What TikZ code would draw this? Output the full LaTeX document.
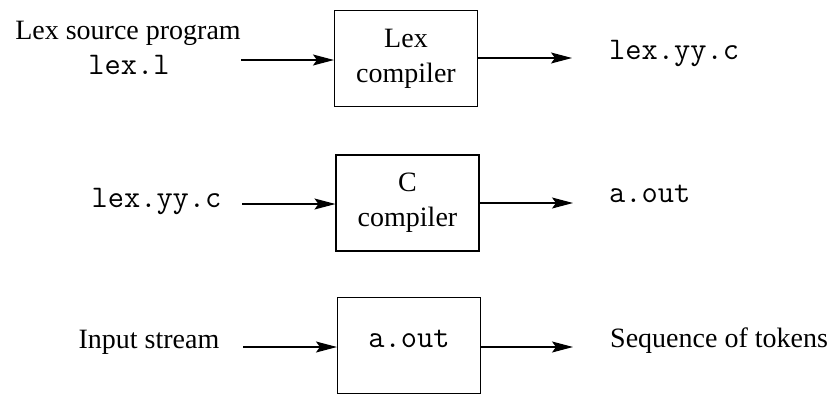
\documentclass[tikz,border=0pt]{standalone}
\usepackage{fontspec}
\setmainfont{Liberation Serif}
\usetikzlibrary{arrows.meta}
\newcommand\codetxt[1]{{\ttfamily\fontsize{31.5}{35}\selectfont #1}}
\begin{document}
\begin{tikzpicture}[x=1pt,y=-1pt,
  every node/.style={font=\fontsize{28}{35}\selectfont, inner sep=0pt},
  box/.style={draw, line width=1.1pt, minimum width=143pt, minimum height=96pt, align=center},
  conn/.style={line width=1.1pt, -{Stealth[length=21pt,width=11pt,inset=4pt]}},
  lbl/.style={anchor=base},
  outlbl/.style={anchor=base west}]
\useasboundingbox (0,0) rectangle (832,394);
% row 1
\node[lbl] (src) at (128,39) {Lex source program};
\node[lbl] (srcf) at (129,74) {\codetxt{lex.l}};
\node[box] (b1) at (406,58.5) {Lex\\compiler};
\node[outlbl] (out1) at (609,59) {\codetxt{lex.yy.c}};
\coordinate (i1) at (241,60);
\coordinate (o1) at (572,58);
\draw[conn] (i1) -- (b1.west |- i1);
\draw[conn] (b1.east |- o1) -- (o1);
% row 2
\node[lbl] (in2) at (156.5,207) {\codetxt{lex.yy.c}};
\node[box] (b2) at (407.5,203) {C\\compiler};
\node[outlbl] (out2) at (609,202) {\codetxt{a.out}};
\coordinate (i2) at (242,204);
\coordinate (o2) at (573,203);
\draw[conn] (i2) -- (b2.west |- i2);
\draw[conn] (b2.east |- o2) -- (o2);
% row 3
\node[lbl] (in3) at (149,348) {Input stream};
\node[box, text height=12pt, text depth=0pt] (b3) at (409,345.5) {\raisebox{4pt}{\codetxt{a.out}}};
\node[outlbl] (out3) at (610,347) {Sequence of tokens};
\coordinate (i3) at (243,347);
\coordinate (o3) at (573,347);
\draw[conn] (i3) -- (b3.west |- i3);
\draw[conn] (b3.east |- o3) -- (o3);
\end{tikzpicture}
\end{document}
